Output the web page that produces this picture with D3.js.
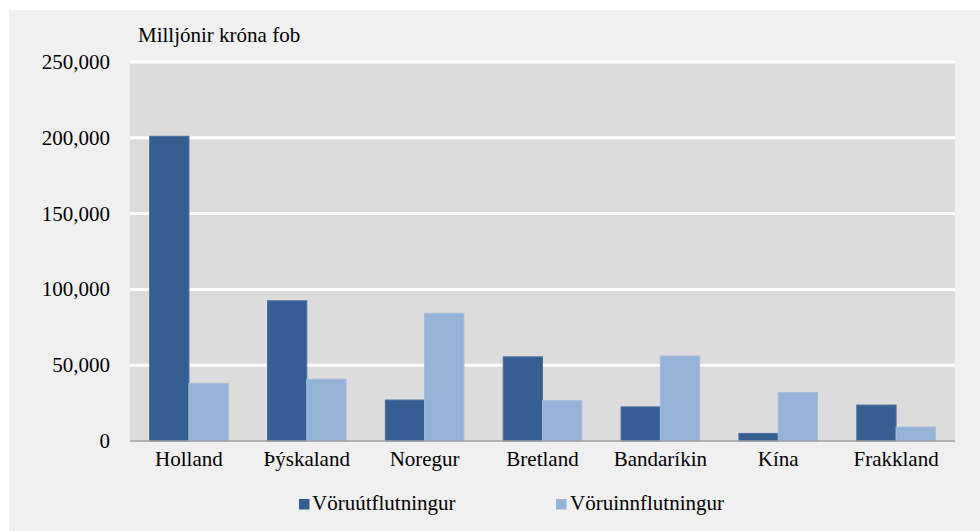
<!DOCTYPE html>
<html>
<head>
<meta charset="utf-8">
<script src="https://cdn.jsdelivr.net/npm/d3@7"></script>
<style>
  html, body { margin: 0; padding: 0; background: #ffffff; }
  svg { display: block; font-family: "Liberation Serif", "Times New Roman", serif; }
</style>
</head>
<body>
<svg id="chart" width="980" height="531"></svg>
<script>
'use strict';

var categories = ['Holland', 'Þýskaland', 'Noregur', 'Bretland', 'Bandaríkin', 'Kína', 'Frakkland'];
var seriesNames = ['Vöruútflutningur', 'Vöruinnflutningur'];
var exportsValues = [201000, 92500, 27000, 55500, 22500, 5000, 23700];
var importsValues = [38000, 40700, 84200, 26600, 56000, 31900, 9200];
var yTicks = [0, 50000, 100000, 150000, 200000, 250000];
var colors = ['#365f91', '#95b3d7'];

var svg = d3.select('#chart');
var W = 980, H = 531;
var plot = {left: 130, right: 955, top: 62, bottom: 441};
var fs = 21;

// outer panel
svg.append('rect')
	.attr('x', 9).attr('y', 10)
	.attr('width', W - 9).attr('height', H - 10)
	.attr('fill', '#f0f0f0');

// plot area
svg.append('rect')
	.attr('x', plot.left).attr('y', plot.top)
	.attr('width', plot.right - plot.left).attr('height', plot.bottom - plot.top)
	.attr('fill', '#dcdcdc');

var x0 = d3.scaleBand()
	.domain(categories)
	.range([plot.left, plot.right]);
var bw = x0.bandwidth();
var x1 = d3.scaleBand()
	.domain(seriesNames)
	.range([bw / 6, bw * 5 / 6]);
var y = d3.scaleLinear()
	.domain([0, 250000])
	.range([plot.bottom, plot.top]);

var fmt = d3.format(',');

// gridlines
svg.selectAll('line.grid')
	.data(yTicks.filter(function(d) { return d > 0; }))
	.enter()
	.append('line')
		.attr('class', 'grid')
		.attr('x1', plot.left).attr('x2', plot.right)
		.attr('y1', function(d) { return y(d); })
		.attr('y2', function(d) { return y(d); })
		.attr('stroke', '#ffffff')
		.attr('stroke-width', 3);

// y tick labels
svg.selectAll('text.ytick')
	.data(yTicks)
	.enter()
	.append('text')
		.attr('class', 'ytick')
		.attr('x', 110)
		.attr('y', function(d) { return y(d); })
		.attr('dy', '0.33em')
		.attr('text-anchor', 'end')
		.attr('font-size', fs)
		.attr('fill', '#000')
		.text(fmt);

// bars
var rows = categories.map(function(c, i) {
	return {cat: c, values: [exportsValues[i], importsValues[i]]};
});
var groups = svg.selectAll('g.cat')
	.data(rows)
	.enter()
	.append('g')
		.attr('class', 'cat')
		.attr('transform', function(d) { return 'translate(' + x0(d.cat) + ',0)'; });
groups.selectAll('rect')
	.data(function(d) {
		return d.values.map(function(v, j) { return {name: seriesNames[j], value: v, j: j}; });
	})
	.enter()
	.append('rect')
		.attr('x', function(d) { return x1(d.name); })
		.attr('width', x1.bandwidth())
		.attr('y', function(d) { return y(d.value); })
		.attr('height', function(d) { return y(0) - y(d.value); })
		.attr('fill', function(d) { return colors[d.j]; })
		.attr('stroke', function(d) { return d.j === 0 ? '#4a6f9c' : '#a3bcdb'; })
		.attr('stroke-width', 1);

// baseline
svg.append('line')
	.attr('x1', plot.left).attr('x2', plot.right)
	.attr('y1', plot.bottom).attr('y2', plot.bottom)
	.attr('stroke', '#a0a0a0')
	.attr('stroke-width', 1.5);

// category labels
svg.selectAll('text.xtick')
	.data(categories)
	.enter()
	.append('text')
		.attr('class', 'xtick')
		.attr('x', function(d) { return x0(d) + bw / 2; })
		.attr('y', 465.5)
		.attr('text-anchor', 'middle')
		.attr('font-size', fs)
		.attr('fill', '#000')
		.text(function(d) { return d; });

// unit label
svg.append('text')
	.attr('x', 138).attr('y', 42)
	.attr('font-size', fs)
	.attr('fill', '#000')
	.text('Milljónir króna fob');

// legend
var legendX = [299, 556];
var legend = svg.selectAll('g.legend')
	.data(seriesNames)
	.enter()
	.append('g')
		.attr('class', 'legend')
		.attr('transform', function(d, i) { return 'translate(' + legendX[i] + ',510)'; });
legend.append('rect')
	.attr('x', 0).attr('y', -11)
	.attr('width', 10.5).attr('height', 10.5)
	.attr('fill', function(d, i) { return colors[i]; });
legend.append('text')
	.attr('x', function(d, i) { return i === 0 ? 13 : 14; })
	.attr('y', 0)
	.attr('font-size', fs)
	.attr('fill', '#000')
	.text(function(d) { return d; });
</script>
</body>
</html>
